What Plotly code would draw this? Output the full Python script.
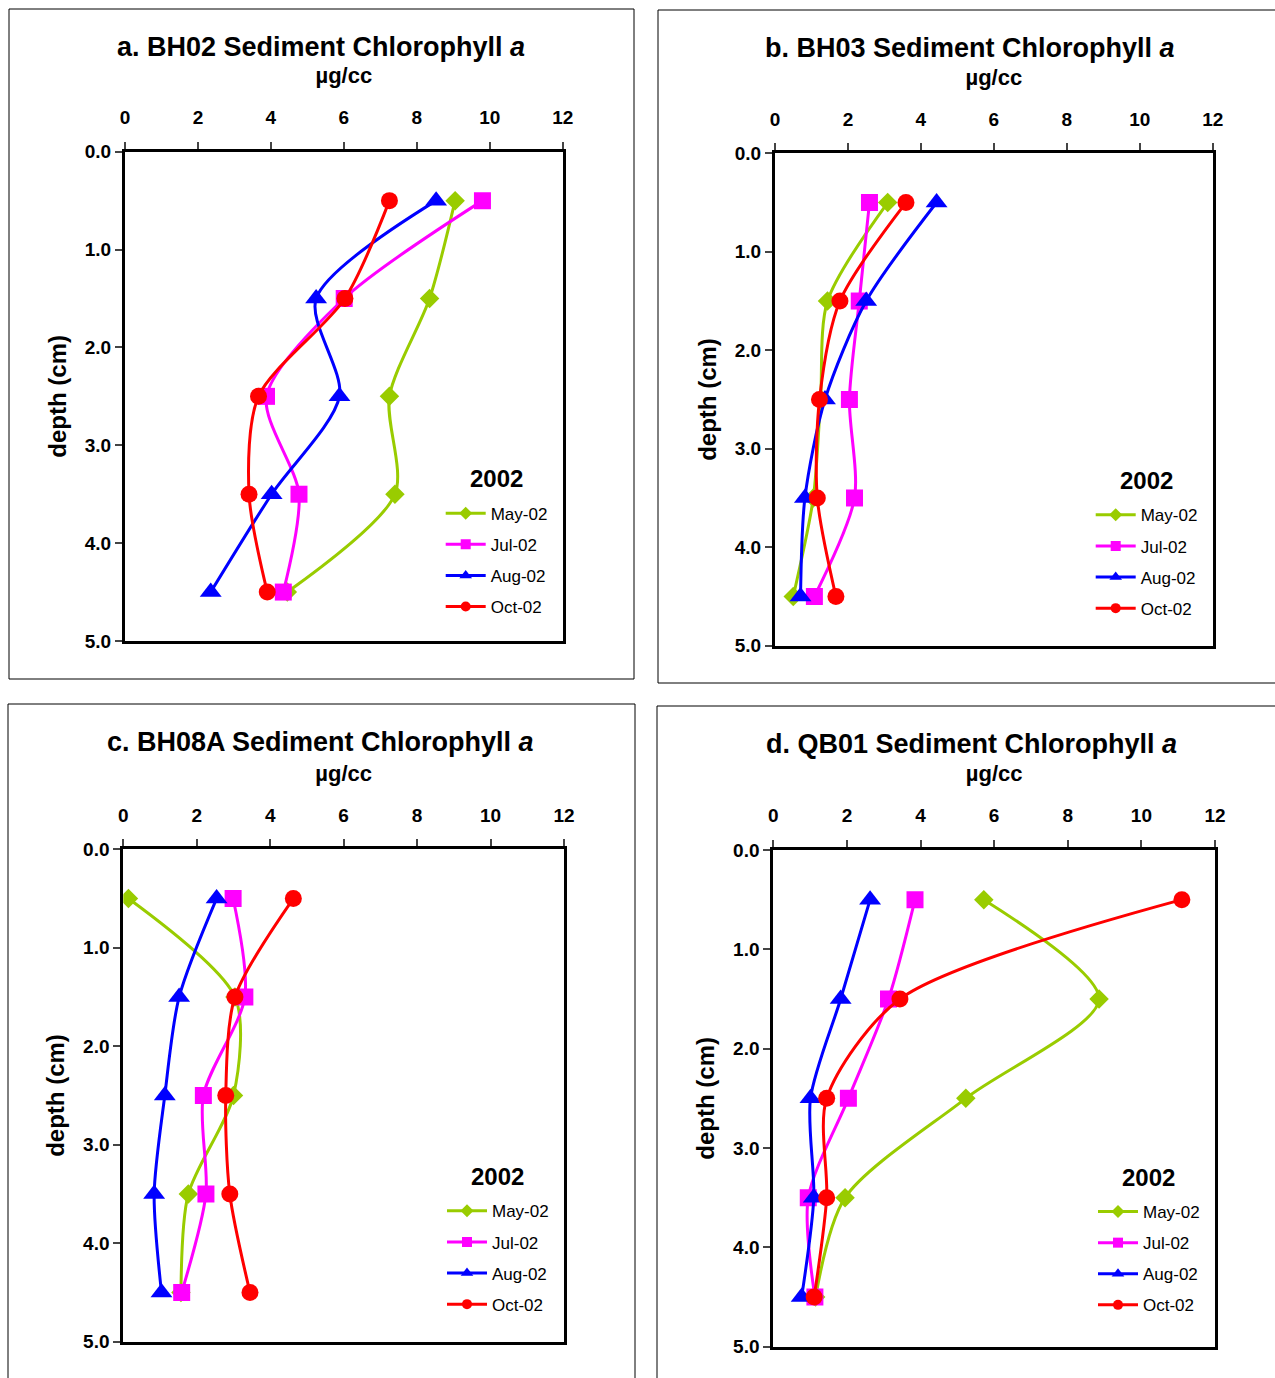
import plotly.graph_objects as go

# Sampling depths (cm) shared by all cores
depths = [0.5, 1.5, 2.5, 3.5, 4.5]

# Sediment chlorophyll a (ug/cc) by station and sampling month
stations = ["a. BH02", "b. BH03", "c. BH08A", "d. QB01"]

bh02_may = [9.05, 8.35, 7.25, 7.40, 4.45]
bh02_jul = [9.80, 6.01, 3.88, 4.77, 4.34]
bh02_aug = [8.53, 5.24, 5.88, 4.02, 2.35]
bh02_oct = [7.25, 6.03, 3.66, 3.40, 3.90]

bh03_may = [3.09, 1.44, 1.25, 1.05, 0.50]
bh03_jul = [2.59, 2.31, 2.04, 2.18, 1.08]
bh03_aug = [4.43, 2.50, 1.37, 0.82, 0.70]
bh03_oct = [3.59, 1.78, 1.22, 1.16, 1.67]

bh08a_may = [0.14, 3.04, 3.00, 1.77, 1.57]
bh08a_jul = [2.99, 3.31, 2.18, 2.25, 1.59]
bh08a_aug = [2.54, 1.52, 1.13, 0.84, 1.04]
bh08a_oct = [4.63, 3.04, 2.79, 2.90, 3.45]

qb01_may = [5.72, 8.85, 5.23, 1.95, 1.15]
qb01_jul = [3.85, 3.13, 2.04, 0.95, 1.13]
qb01_aug = [2.63, 1.83, 1.01, 1.10, 0.77]
qb01_oct = [11.10, 3.44, 1.45, 1.45, 1.11]

months = ["May-02", "Jul-02", "Aug-02", "Oct-02"]
year_label = "2002"
panel_values = [
    [bh02_may, bh02_jul, bh02_aug, bh02_oct],
    [bh03_may, bh03_jul, bh03_aug, bh03_oct],
    [bh08a_may, bh08a_jul, bh08a_aug, bh08a_oct],
    [qb01_may, qb01_jul, qb01_aug, qb01_oct],
]

colors = ["#99CC00", "#FF00FF", "#0000FF", "#FF0000"]
symbols = ["diamond", "square", "triangle-up", "circle"]
msizes = [15, 17, 19, 17]
legend_msizes = [10, 10, 11, 10]

W, H = 1275, 1378
FONT = "Arial, Liberation Sans, sans-serif"


def px(x):
    return x / W


def py(y):
    return 1 - y / H


# plot areas (left, right, top, bottom) and enclosing frames, in pixels
areas = [
    (125, 562.7, 151.7, 641),
    (775, 1212.7, 153.3, 645.7),
    (123.3, 564, 849.3, 1341.7),
    (773.3, 1215, 850, 1346.7),
]
frames = [
    (9, 634, 9, 679),
    (658, 1290, 10, 683),
    (8, 635, 704, 1390),
    (657, 1290, 706, 1390),
]
title_x = [321, 970, 320, 971]

fig = go.Figure()
shapes = []
annotations = []

for i, (name, series) in enumerate(zip(stations, panel_values)):
    n = "" if i == 0 else str(i + 1)
    xa, ya = "x" + n, "y" + n
    lg = "legend" + n
    for j, (month, vals) in enumerate(zip(months, series)):
        fig.add_trace(go.Scatter(
            x=vals, y=depths, xaxis=xa, yaxis=ya,
            name=month, legendgroup=f"{i}-{j}", showlegend=False,
            mode="lines+markers",
            line=dict(color=colors[j], width=3, shape="spline", smoothing=0.8),
            marker=dict(symbol=symbols[j], size=msizes[j], color=colors[j]),
        ))
        # legend entry with the smaller key marker
        fig.add_trace(go.Scatter(
            x=[None], y=[None], xaxis=xa, yaxis=ya,
            name=month, legend=lg, legendgroup=f"{i}-{j}",
            mode="lines+markers",
            line=dict(color=colors[j], width=3),
            marker=dict(symbol=symbols[j], size=legend_msizes[j], color=colors[j]),
        ))

    l, r, t, b = areas[i]
    fig.update_layout({
        "xaxis" + n: dict(
            domain=[px(l), px(r)], anchor=ya, side="top", range=[0, 12],
            dtick=2, tick0=0, ticks="outside", ticklen=7, tickwidth=2,
            ticklabelstandoff=10, automargin=False,
            showline=True, linewidth=3, linecolor="black", mirror=True,
            showgrid=False, zeroline=False,
            tickfont=dict(family=FONT, size=19, color="black", weight="bold"),
            title=dict(text="µg/cc", standoff=18,
                       font=dict(family=FONT, size=22, color="black", weight="bold")),
        ),
        "yaxis" + n: dict(
            domain=[py(b), py(t)], anchor=xa, range=[5, 0],
            dtick=1, tick0=0, tickformat=".1f", ticks="outside", ticklen=7,
            tickwidth=2, showline=True, linewidth=3, linecolor="black",
            mirror=True, showgrid=False, zeroline=False, automargin=False,
            tickfont=dict(family=FONT, size=19, color="black", weight="bold"),
            title=dict(text="depth (cm)", standoff=12,
                       font=dict(family=FONT, size=24, color="black", weight="bold")),
        ),
        lg: dict(
            x=px(r - 122), y=py(t + 344), xanchor="left", yanchor="top",
            bgcolor="rgba(0,0,0,0)", tracegroupgap=6, itemwidth=40,
            font=dict(family=FONT, size=17, color="black"),
        ),
    })

    annotations.append(dict(
        text=f"<b>{year_label}</b>", xref="paper", yref="paper",
        x=px(r - 66.7), y=py(t + 327), xanchor="center", yanchor="middle",
        showarrow=False, font=dict(family=FONT, size=24, color="black")))

    fl, fr, ft, fb = frames[i]
    shapes.append(dict(type="rect", xref="paper", yref="paper",
                       x0=px(fl), x1=px(fr), y0=py(fb), y1=py(ft),
                       line=dict(color="black", width=1)))
    annotations.append(dict(
        text=f"<b>{name} Sediment Chlorophyll <i>a</i></b>",
        xref="paper", yref="paper", x=px(title_x[i]),
        y=py(ft + 38), xanchor="center", yanchor="middle", showarrow=False,
        font=dict(family=FONT, size=27, color="black")))

fig.update_layout(
    width=W, height=H, margin=dict(l=0, r=0, t=0, b=0),
    paper_bgcolor="white", plot_bgcolor="white",
    showlegend=True, shapes=shapes, annotations=annotations,
)

fig.write_html(
    "out.html",
    post_script="document.body.style.margin='0';document.body.style.overflow='hidden';",
)
